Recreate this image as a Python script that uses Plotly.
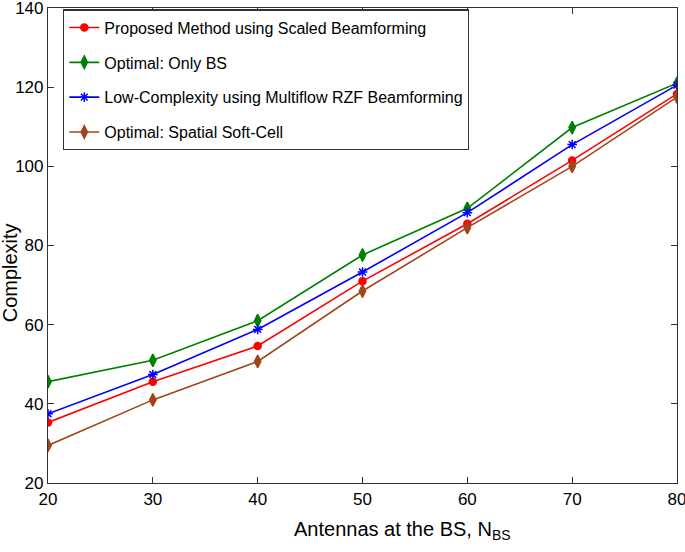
import plotly.graph_objects as go

antennas = [20, 30, 40, 50, 60, 70, 80]

proposed = [35.3, 45.6, 54.6, 71.0, 85.5, 101.5, 118.3]
only_bs = [45.6, 51.0, 61.0, 77.6, 89.4, 109.8, 121.0]
low_complex = [37.5, 47.4, 58.8, 73.3, 88.3, 105.5, 120.5]
soft_cell = [29.5, 41.0, 50.7, 68.5, 84.5, 100.0, 117.5]

names = [
    "Proposed Method using Scaled Beamforming",
    "Optimal: Only BS",
    "Low-Complexity using Multiflow RZF Beamforming",
    "Optimal: Spatial Soft-Cell",
]
colors = ["#FF0000", "#008000", "#0000FF", "#A0461A"]
symbols = ["circle", "diamond-tall", "asterisk-open", "diamond-tall"]
sizes = [7, 9, 8, 9]

fig = go.Figure()
for i, ys in enumerate([proposed, only_bs, low_complex, soft_cell]):
    fig.add_trace(go.Scatter(
        x=antennas, y=ys, name=names[i], mode="lines+markers",
        legendgroup=str(i),
        line=dict(color=colors[i], width=1.6),
        marker=dict(symbol=symbols[i], size=sizes[i], color=colors[i],
                    line=dict(color=colors[i], width=1.5)),
    ))

axis_common = dict(
    showline=True, linecolor="#333333", linewidth=1.2, mirror="ticks",
    ticks="inside", ticklen=6, tickcolor="#333333", showgrid=False,
    zeroline=False, tickfont=dict(size=17, color="black"), automargin=False,
    ticklabeloverflow="allow",
)

fig.update_layout(
    width=685, height=552,
    margin=dict(l=48, r=8, t=8, b=69),
    paper_bgcolor="white", plot_bgcolor="white",
    font=dict(family="Liberation Sans, Arial, sans-serif", color="black"),
    xaxis=dict(range=[20, 80], dtick=10, **axis_common),
    yaxis=dict(range=[20, 140], dtick=20, **axis_common),
    legend=dict(x=0.024, y=0.997, xanchor="left", yanchor="top",
                bgcolor="white", bordercolor="#333333", borderwidth=1.2,
                font=dict(size=16), tracegroupgap=11, itemwidth=30),
)

# axis titles sit off-centre in the original, so place them by hand
fig.add_annotation(text="Antennas at the BS, N<sub>BS</sub>", xref="paper", yref="paper",
                   x=0.563, y=-0.1, xanchor="center", yanchor="middle",
                   showarrow=False, font=dict(size=20))
fig.add_annotation(text="Complexity", xref="paper", yref="paper",
                   x=-0.06, y=0.442, xanchor="center", yanchor="middle",
                   textangle=-90, showarrow=False, font=dict(size=20))

# page body has an 8px default margin, drop it so the figure sits at 0,0
fig.write_html("out.html", config={"displayModeBar": False},
               post_script="document.body.style.margin='0';")
